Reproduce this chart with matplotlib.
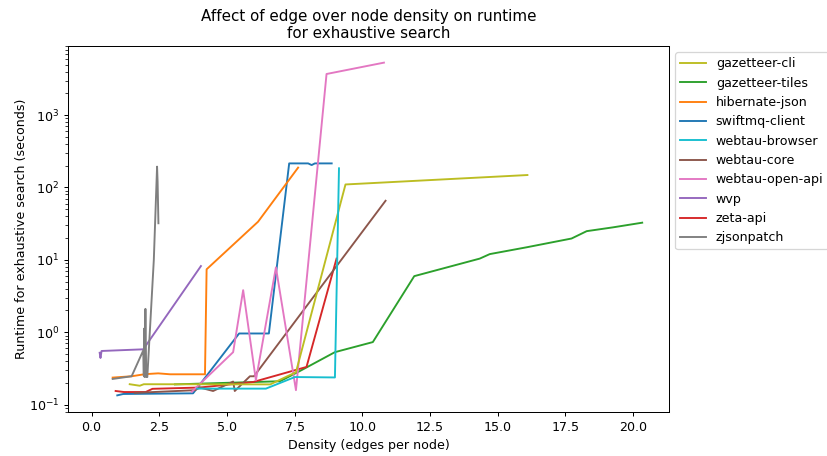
import matplotlib
matplotlib.use("Agg")
import matplotlib.pyplot as plt

# data (density, runtime seconds)
swiftmq_x = [0.95, 1.17, 3.75, 5.45, 6.55, 7.3, 8.0, 8.13, 8.25, 8.87]
swiftmq_y = [0.134, 0.14, 0.143, 0.96, 0.96, 215, 215, 204, 215, 215]

hibernate_x = [0.78, 1.48, 1.97, 2.46, 2.9, 4.19, 4.25, 6.15, 7.63]
hibernate_y = [0.236, 0.246, 0.263, 0.27, 0.262, 0.262, 7.4, 33.6, 188]

tiles_x = [3.08, 6.96, 7.69, 8.99, 10.39, 11.92, 14.34, 14.71, 16.07, 17.73, 18.29, 19.26, 20.34]
tiles_y = [0.19, 0.21, 0.29, 0.53, 0.73, 5.95, 10.4, 12.0, 14.9, 19.7, 24.9, 28.1, 32.6]

zeta_x = [0.89, 1.2, 2.0, 2.25, 4.0, 5.97, 7.94, 9.05]
zeta_y = [0.154, 0.149, 0.149, 0.165, 0.172, 0.205, 0.331, 10.4]

wvp_x = [0.3, 0.33, 0.37, 1.91, 4.04]
wvp_y = [0.52, 0.44, 0.55, 0.58, 8.2]

core_x = [1.6, 3.82, 4.0, 4.49, 5.23, 5.29, 5.85, 6.0, 10.86]
core_y = [0.145, 0.158, 0.172, 0.154, 0.208, 0.154, 0.246, 0.246, 65.5]

openapi_x = [3.7, 5.23, 5.6, 6.07, 6.81, 7.55, 8.68, 10.8]
openapi_y = [0.15, 0.53, 3.81, 0.217, 7.86, 0.158, 3697, 5307]

zjson_x = [0.78, 1.48, 1.91, 1.93, 1.94, 1.96, 1.99, 2.02, 2.06, 2.3, 2.42, 2.44, 2.47]
zjson_y = [0.226, 0.246, 0.56, 0.25, 1.12, 0.24, 2.1, 0.24, 0.24, 10, 194, 120, 32]

cli_x = [1.41, 1.78, 1.93, 6.6, 7.55, 9.38, 16.1]
cli_y = [0.191, 0.182, 0.191, 0.19, 0.28, 110, 148.5]

browser_x = [3.9, 6.44, 7.51, 8.99, 9.14]
browser_y = [0.166, 0.166, 0.24, 0.237, 184]

series = [
    ("swiftmq-client", swiftmq_x, swiftmq_y, "tab:blue"),
    ("hibernate-json", hibernate_x, hibernate_y, "tab:orange"),
    ("gazetteer-tiles", tiles_x, tiles_y, "tab:green"),
    ("zeta-api", zeta_x, zeta_y, "tab:red"),
    ("wvp", wvp_x, wvp_y, "tab:purple"),
    ("webtau-core", core_x, core_y, "tab:brown"),
    ("webtau-open-api", openapi_x, openapi_y, "tab:pink"),
    ("zjsonpatch", zjson_x, zjson_y, "tab:gray"),
    ("gazetteer-cli", cli_x, cli_y, "tab:olive"),
    ("webtau-browser", browser_x, browser_y, "tab:cyan"),
]

DPI = 91
fig = plt.figure(figsize=(827 / DPI, 456 / DPI), dpi=DPI)
ax = fig.add_axes([68 / 827, 1 - 412 / 456, (669 - 68) / 827, (412 - 46) / 456])
handles = {}
for name, xs, ys, c in series:
    (h,) = ax.plot(xs, ys, color=c, label=name)
    handles[name] = h
ax.set_yscale("log")
ax.set_xlim(-0.87, 21.33)
ax.set_xlabel("Density (edges per node)")
ax.set_ylabel("Runtime for exhaustive search (seconds)", labelpad=1)
ax.set_title("Affect of edge over node density on runtime\nfor exhaustive search")
order = sorted(handles)
ax.legend([handles[n] for n in order], order, loc="upper left", bbox_to_anchor=(1.0, 1.0))
fig.savefig("out.png", dpi=DPI)
